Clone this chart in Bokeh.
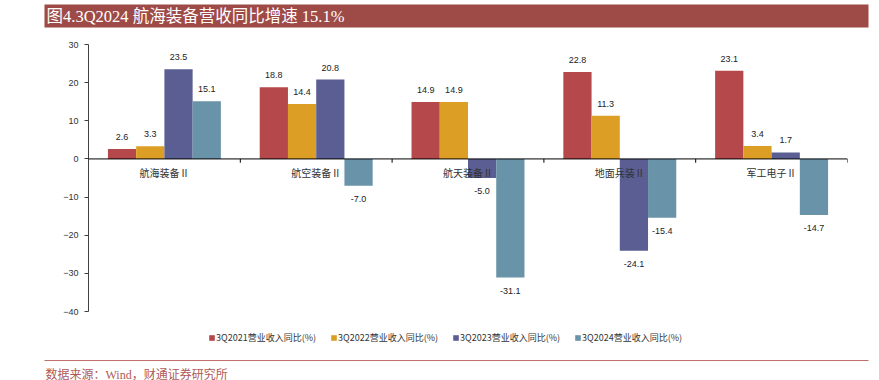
from bokeh.plotting import figure
from bokeh.layouts import column
from bokeh.models import (Range1d, FixedTicker, Span, BoxAnnotation, Label,
                          Legend, LegendItem, ColumnDataSource)
from bokeh.core.properties import value
from bokeh.embed import file_html
from bokeh.resources import INLINE

# ---- data ----
categories = ["航海装备Ⅱ", "航空装备Ⅱ", "航天装备Ⅱ", "地面兵装Ⅱ", "军工电子Ⅱ"]
series_names = ["3Q2021营业收入同比(%)", "3Q2022营业收入同比(%)",
                "3Q2023营业收入同比(%)", "3Q2024营业收入同比(%)"]
q2021 = [2.6, 18.8, 14.9, 22.8, 23.1]
q2022 = [3.3, 14.4, 14.9, 11.3, 3.4]
q2023 = [23.5, 20.8, -5.0, -24.1, 1.7]
q2024 = [15.1, -7.0, -31.1, -15.4, -14.7]
y_ticks = [-40, -30, -20, -10, 0, 10, 20, 30]
title_text = "图4.3Q2024 航海装备营收同比增速 15.1%"
source_text = "数据来源：Wind，财通证券研究所"

series = [q2021, q2022, q2023, q2024]
colors = ["#b5484a", "#dc9e25", "#5b5e93", "#6893a8"]

W = 879
SERIF = "'Liberation Serif', 'Noto Sans CJK SC'"


def deco_fig(h):
    f = figure(width=W, height=h, output_backend="svg", toolbar_location=None,
               x_range=Range1d(0, W), y_range=Range1d(h, 0),
               min_border=0, min_border_left=0, min_border_right=0,
               min_border_top=0, min_border_bottom=0, frame_align=False)
    f.axis.visible = False
    f.grid.visible = False
    f.outline_line_color = None
    return f


# ---- title bar ----
tf = deco_fig(30)
tf.add_layout(BoxAnnotation(left=44, right=868, top=4, bottom=27,
                            fill_color="#9e4b47", fill_alpha=1, line_color=None))
tf.add_layout(Label(x=46, y=16, text=title_text, text_color="white",
                    text_font=SERIF, text_font_size="16.5px",
                    text_baseline="middle"))

# ---- main chart ----
p = figure(width=W, height=300, output_backend="svg", toolbar_location=None,
           x_range=Range1d(0, len(categories)), y_range=Range1d(-40, 30),
           min_border_left=88, min_border_top=14, min_border_right=32,
           min_border_bottom=19, frame_align=False)
p.outline_line_color = None
p.xgrid.visible = False
p.ygrid.visible = False
p.xaxis.visible = False

ya = p.yaxis[0]
ya.ticker = FixedTicker(ticks=y_ticks)
ya.axis_line_color = "#404040"
ya.major_tick_line_color = "#404040"
ya.major_tick_out = 4
ya.major_tick_in = 0
ya.minor_tick_line_color = None
ya.major_label_text_font = "Liberation Sans"
ya.major_label_text_font_size = "9px"
ya.major_label_text_color = "#333333"
ya.major_label_standoff = 6

bw = 0.186
offsets = [-1.5, -0.5, 0.5, 1.5]
centers = [i + 0.5 for i in range(len(categories))]
for vals, col, off in zip(series, colors, offsets):
    xs = [c + off * bw for c in centers]
    src = ColumnDataSource(dict(x=xs, top=vals,
                                lab=[f"{v:.1f}" for v in vals],
                                yo=[-12 if v >= 0 else 13 for v in vals]))
    p.vbar(x="x", top="top", bottom=0, width=bw, source=src,
           fill_color=col, line_color=None)
    p.text(x="x", y="top", text="lab", y_offset="yo", source=src,
           text_align="center", text_baseline="middle",
           text_font=value("Liberation Sans"), text_font_size="9px",
           text_color="#222222")

p.add_layout(Span(location=0, dimension="width", line_color="#000000", line_width=1))
bounds = list(range(len(categories) + 1))
p.segment(x0=bounds, x1=bounds, y0=[0] * len(bounds), y1=[-1.0] * len(bounds),
          line_color="#000000", line_width=1)

p.text(x=centers, y=[0] * len(centers), text=categories, y_offset=14,
       text_align="center", text_baseline="middle",
       text_font=value("Noto Sans CJK SC"), text_font_size="10px",
       text_color="#333333")

# ---- footer: legend, rule, source ----
ff = deco_fig(50)
items = []
for name, col in zip(series_names, colors):
    r = ff.vbar(x=[-100], top=[0], bottom=[0], width=1,
                fill_color=col, line_color=None)
    items.append(LegendItem(label=name, renderers=[r]))
leg = Legend(items=items, orientation="horizontal", location=(208, 36),
             glyph_width=7, glyph_height=7, label_standoff=1, spacing=14,
             padding=0, margin=0, border_line_color=None,
             background_fill_alpha=0, label_text_font="Noto Sans CJK SC",
             label_text_font_size="9px", label_text_color="#333333",
             label_height=10)
ff.add_layout(leg, "center")
ff.add_layout(BoxAnnotation(left=44, right=868, top=29.5, bottom=30.5,
                            fill_color="#c0706a", fill_alpha=1, line_color=None))
ff.add_layout(Label(x=45, y=44, text=source_text, text_color="#b05a55",
                    text_font=SERIF, text_font_size="12px",
                    text_baseline="middle"))

layout = column(tf, p, ff, spacing=0)
open("out.html", "w").write(file_html(layout, INLINE))
